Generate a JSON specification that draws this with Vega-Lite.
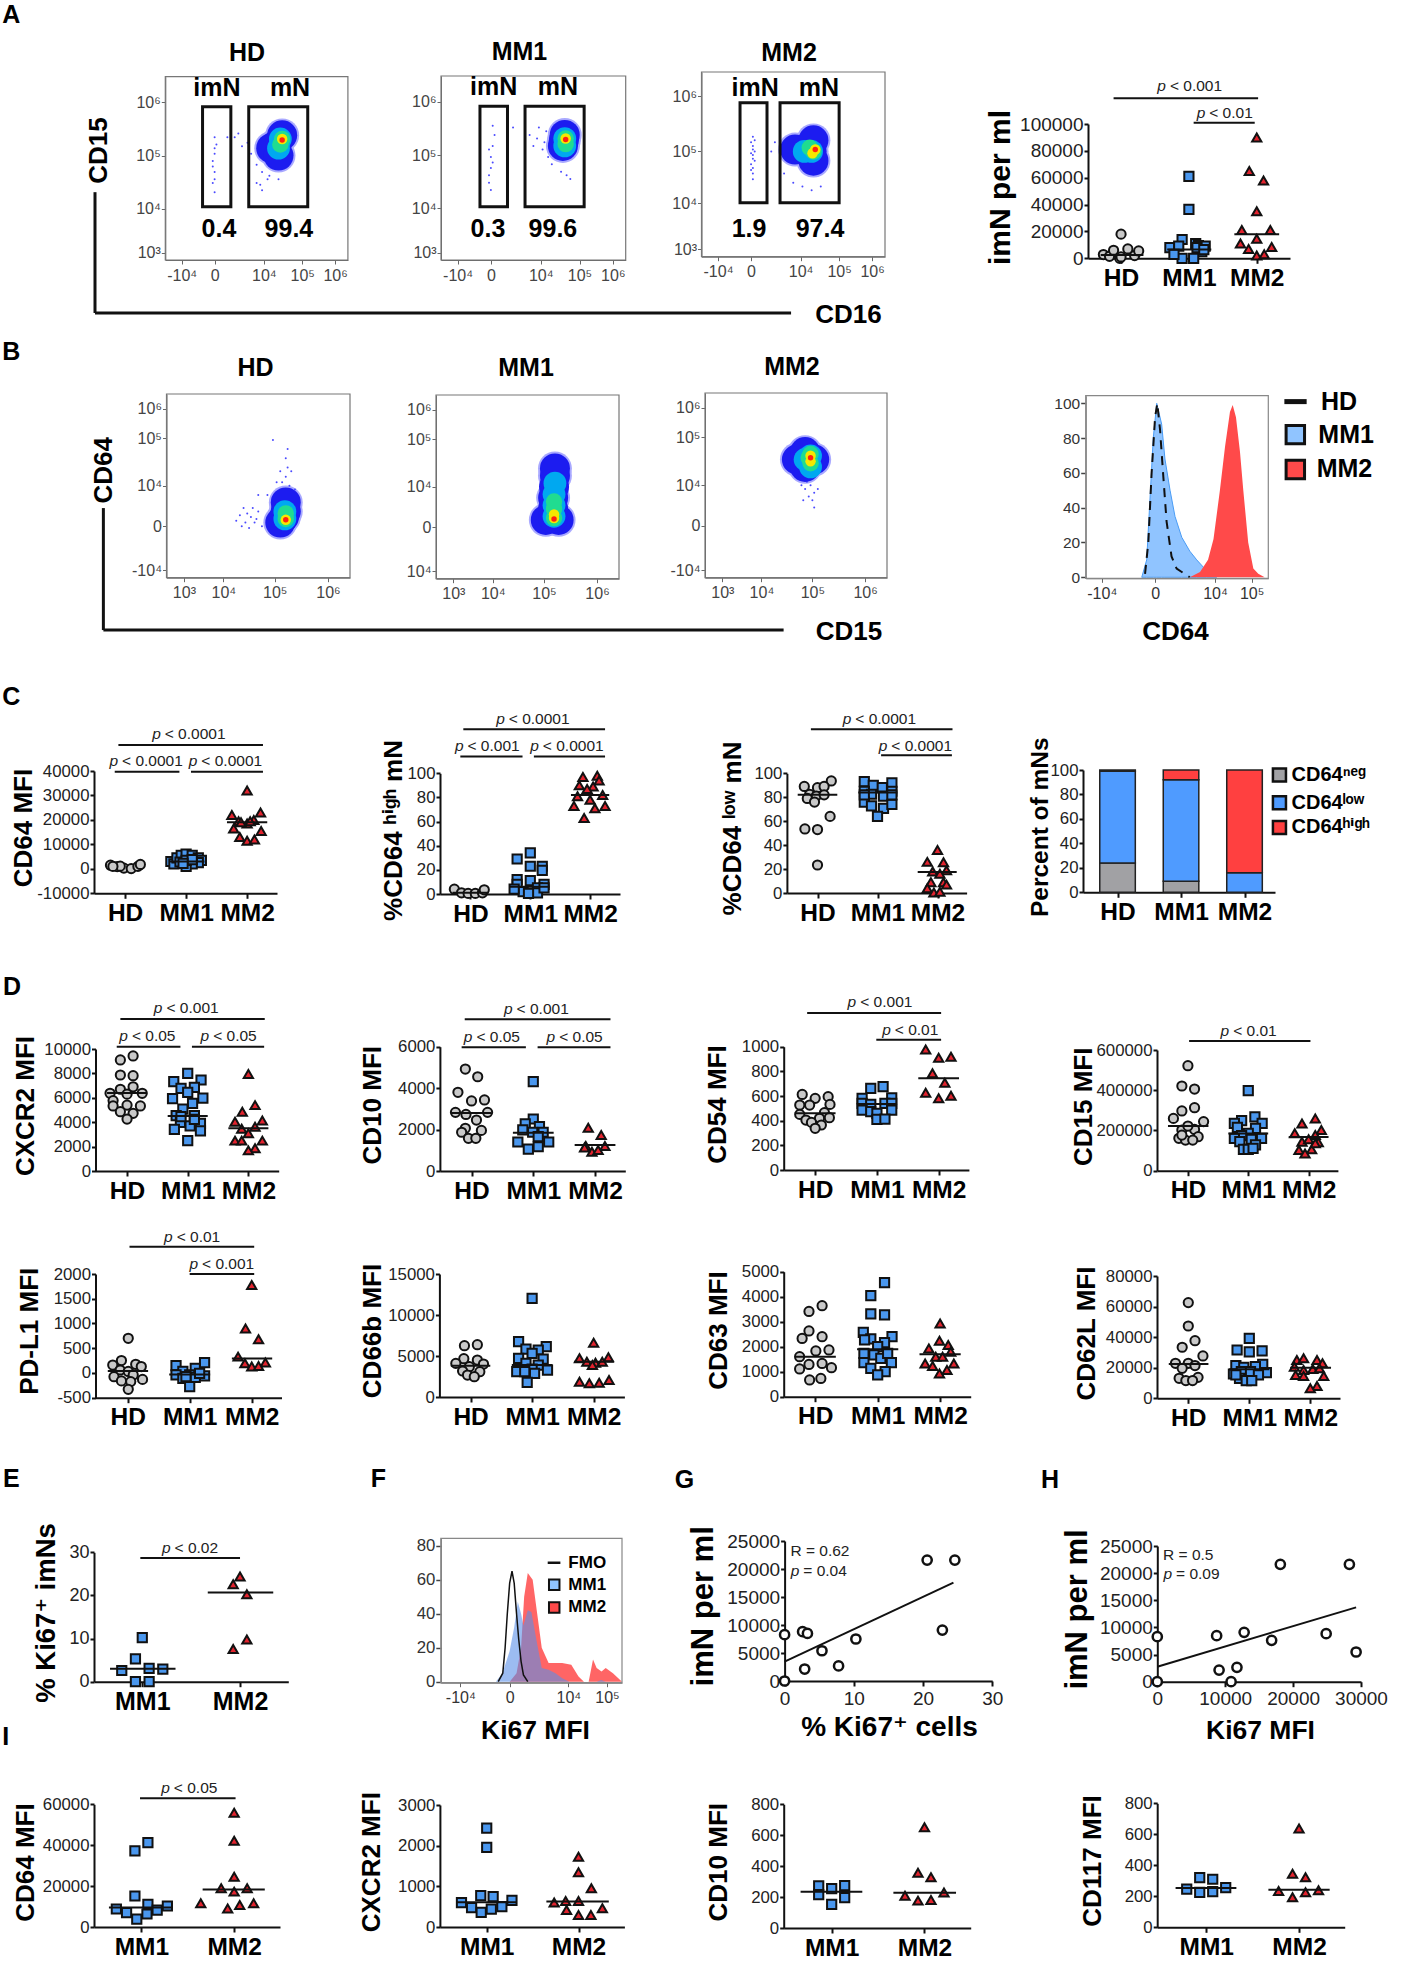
{"$schema":"https://vega.github.io/schema/vega-lite/v6.json","width":1417,"height":1971,"padding":0,"autosize":{"type":"none"},"background":"white",
"config":{"font":"Liberation Sans, DejaVu Sans","view":{"stroke":null},"legend":{"disable":true},"numberFormat":"d",
"axis":{"grid":false,"domainColor":"#111","tickColor":"#111","domainWidth":2,"tickWidth":2,"tickSize":5,"labelColor":"#222","labelFontSize":16.8,"labelPadding":3,"titleFontSize":26,"titleFontWeight":"bold","titleColor":"#000","titleAlign":"center","titleBaseline":"middle","labelOverlap":false,"labelBound":false,"labelFlush":false},
"axisX":{"labelFontSize":24.5,"labelFontWeight":"bold","labelColor":"#000"},"axisY":{"tickSize":4,"labelPadding":1},
"point":{"filled":true,"stroke":"#111","strokeWidth":2,"size":85,"opacity":1},"rule":{"stroke":"#111","strokeWidth":2},"text":{"color":"#000"},
"style":{"pi":{"fontStyle":"italic","align":"right","dx":-4,"fontSize":15.5,"color":"#222"},"pt":{"align":"left","fontSize":15.5,"color":"#222"},"big":{"fontWeight":"bold","fontSize":25}}},
"resolve":{"scale":{"x":"independent","y":"independent"},"axis":{"x":"independent","y":"independent"}},
"layer":[
{"data":{"values":[{"t":"A","x":0.8,"y":0.76},{"t":"B","x":0.8,"y":17.84},{"t":"C","x":0.8,"y":35.35},{"t":"D","x":0.85,"y":50.06},{"t":"E","x":0.8,"y":75.05},{"t":"F","x":26.7,"y":75.05},{"t":"G","x":48.3,"y":75.08},{"t":"H","x":74.1,"y":75.08},{"t":"I","x":0.4,"y":88.15}]},"mark":{"type":"text","style":"big"},"encoding":{"x":{"field":"x","type":"quantitative","scale":{"domain":[0,100],"range":[0,1417]},"axis":null},"y":{"field":"y","type":"quantitative","scale":{"domain":[0,100],"range":[0,1971]},"axis":null},"text":{"field":"t"}}},

{"data":{"values":[{"d":6,"x":61,"y":63},{"d":6,"x":64,"y":68},{"d":6,"x":58,"y":61},{"d":6,"x":62,"y":57},{"d":0,"x":27,"y":67},{"d":0,"x":27,"y":61},{"d":0,"x":26,"y":54},{"d":0,"x":27,"y":48},{"d":0,"x":26,"y":42},{"d":0,"x":27,"y":37},{"d":0,"x":28,"y":63},{"d":0,"x":26,"y":51},{"d":0,"x":27,"y":44},{"d":0,"x":27,"y":58},{"d":0,"x":50,"y":52},{"d":0,"x":53,"y":48},{"d":0,"x":57,"y":46},{"d":0,"x":50,"y":42},{"d":0,"x":53,"y":38},{"d":0,"x":56,"y":44},{"d":0,"x":60,"y":50},{"d":0,"x":62,"y":44},{"d":0,"x":47,"y":58},{"d":0,"x":45,"y":64},{"d":0,"x":38,"y":67},{"d":0,"x":40,"y":69},{"d":0,"x":42,"y":62},{"d":0,"x":34,"y":67},{"d":0,"x":52,"y":41},{"d":0,"x":58,"y":52},
{"d":1,"x":61,"y":63},{"d":1,"x":64,"y":68},{"d":1,"x":58,"y":61},{"d":1,"x":62,"y":57},{"d":2,"x":63,"y":66},{"d":2,"x":62,"y":61},{"d":3,"x":64,"y":66},{"d":3,"x":63,"y":63},{"d":4,"x":64,"y":66},{"d":5,"x":64,"y":65.5},
{"f":1,"x":0,"x2":100,"y":0,"y2":100},{"q":1,"x":20.4,"x2":35.9,"y":29,"y2":83.6},{"q":1,"x":45.7,"x2":78,"y":29,"y2":83.6},
{"r":1,"x":-38.5,"x2":-38.5,"y":37,"y2":-28.9},{"r":1,"x":-38.5,"x2":342.7,"y":-28.9,"y2":-28.9},
{"t":"HD","x":44.7,"y":112.9},{"t":"imN","x":28.3,"y":93.8},{"t":"mN","x":68.3,"y":93.8},{"t":"0.4","x":29.4,"y":16.9},{"t":"99.4","x":67.7,"y":16.9}]},
"encoding":{"x":{"field":"x","type":"quantitative","scale":{"domain":[0,100],"range":[165.3,347.9]},"axis":{"orient":"bottom","offset":-1711,"values":[9,27,54,75,93],"labelExpr":"['-10⁴','0','10⁴','10⁵','10⁶'][indexof([9,27,54,75,93],datum.value)]","title":"CD16","titleX":848,"titleY":54,"domainColor":"#666","domainWidth":1,"tickColor":"#666","tickWidth":1,"tickSize":4,"labelFontSize":16,"labelFontWeight":"normal","labelColor":"#444"}},"y":{"field":"y","type":"quantitative","scale":{"domain":[0,100],"range":[260,76.7]},"axis":{"orient":"left","offset":-165.3,"values":[4,28,57,86],"labelExpr":"['10³','10⁴','10⁵','10⁶'][indexof([4,28,57,86],datum.value)]","title":"CD15","titleX":-67,"titleY":150,"domainColor":"#666","domainWidth":1,"tickColor":"#666","tickWidth":1,"tickSize":4,"labelFontSize":16,"labelColor":"#444"}}},
"layer":[
{"transform":[{"filter":"datum.d!=null"}],"mark":{"type":"point","strokeWidth":0},"encoding":{"color":{"field":"d","type":"ordinal","scale":{"type":"ordinal","domain":[0,1,2,3,4,5,6],"range":["#4a4aff","#1c1cf0","#00a8f0","#20dc90","#f5e800","#ff2010","#a9a9ff"]}},"size":{"field":"d","type":"ordinal","scale":{"type":"ordinal","domain":[0,1,2,3,4,5,6],"range":[4,900,520,270,110,30,1150]}}}},
{"transform":[{"filter":"datum.f"}],"mark":{"type":"rect","fillOpacity":0,"stroke":"#777","strokeWidth":1.2},"encoding":{"x2":{"field":"x2"},"y2":{"field":"y2"}}},
{"transform":[{"filter":"datum.q"}],"mark":{"type":"rect","fillOpacity":0,"stroke":"#111","strokeWidth":3},"encoding":{"x2":{"field":"x2"},"y2":{"field":"y2"}}},
{"transform":[{"filter":"datum.r"}],"mark":{"type":"rule","strokeWidth":3},"encoding":{"x2":{"field":"x2"},"y2":{"field":"y2"}}},
{"transform":[{"filter":"datum.t"}],"mark":{"type":"text","style":"big"},"encoding":{"text":{"field":"t"}}}]},

{"data":{"values":[{"d":6,"x":66.5,"y":65},{"d":6,"x":66,"y":62},{"d":6,"x":67,"y":68},{"d":0,"x":28,"y":73},{"d":0,"x":29,"y":68},{"d":0,"x":28,"y":62},{"d":0,"x":27,"y":56},{"d":0,"x":27,"y":50},{"d":0,"x":26,"y":46},{"d":0,"x":26,"y":42},{"d":0,"x":27,"y":38},{"d":0,"x":26,"y":60},{"d":0,"x":28,"y":53},{"d":0,"x":36,"y":72},{"d":0,"x":39,"y":72},{"d":0,"x":52,"y":66},{"d":0,"x":55,"y":60},{"d":0,"x":57,"y":70},{"d":0,"x":50,"y":62},{"d":0,"x":53,"y":72},{"d":0,"x":58,"y":56},{"d":0,"x":48,"y":68},{"d":0,"x":56,"y":64},{"d":0,"x":65,"y":48},{"d":0,"x":68,"y":46},{"d":0,"x":70,"y":44},{"d":0,"x":60,"y":52},
{"d":1,"x":66.5,"y":65},{"d":1,"x":66,"y":62},{"d":1,"x":67,"y":68},{"d":2,"x":67,"y":66},{"d":2,"x":67,"y":62},{"d":3,"x":67.5,"y":66},{"d":3,"x":67.5,"y":63},{"d":4,"x":67.5,"y":66},{"d":5,"x":67.5,"y":65.5},
{"f":1,"x":0,"x2":100,"y":0,"y2":100},{"q":1,"x":21.1,"x2":36,"y":29,"y2":83.6},{"q":1,"x":45.5,"x2":77.5,"y":29,"y2":83.6},
{"t":"MM1","x":42.5,"y":112.9},{"t":"imN","x":28.5,"y":93.8},{"t":"mN","x":63.3,"y":93.8},{"t":"0.3","x":25.4,"y":16.9},{"t":"99.6","x":60.6,"y":16.9}]},
"encoding":{"x":{"field":"x","type":"quantitative","scale":{"domain":[0,100],"range":[441,625.7]},"axis":{"orient":"bottom","offset":-1711,"values":[9,27,54,75,93],"labelExpr":"['-10⁴','0','10⁴','10⁵','10⁶'][indexof([9,27,54,75,93],datum.value)]","title":null,"domainColor":"#666","domainWidth":1,"tickColor":"#666","tickWidth":1,"tickSize":4,"labelFontSize":16,"labelFontWeight":"normal","labelColor":"#444"}},"y":{"field":"y","type":"quantitative","scale":{"domain":[0,100],"range":[260,76]},"axis":{"orient":"left","offset":-441,"values":[4,28,57,86],"labelExpr":"['10³','10⁴','10⁵','10⁶'][indexof([4,28,57,86],datum.value)]","title":null,"domainColor":"#666","domainWidth":1,"tickColor":"#666","tickWidth":1,"tickSize":4,"labelFontSize":16,"labelColor":"#444"}}},
"layer":[
{"transform":[{"filter":"datum.d!=null"}],"mark":{"type":"point","strokeWidth":0},"encoding":{"color":{"field":"d","type":"ordinal","scale":{"type":"ordinal","domain":[0,1,2,3,4,5,6],"range":["#4a4aff","#1c1cf0","#00a8f0","#20dc90","#f5e800","#ff2010","#a9a9ff"]}},"size":{"field":"d","type":"ordinal","scale":{"type":"ordinal","domain":[0,1,2,3,4,5,6],"range":[4,900,520,270,110,30,1150]}}}},
{"transform":[{"filter":"datum.f"}],"mark":{"type":"rect","fillOpacity":0,"stroke":"#777","strokeWidth":1.2},"encoding":{"x2":{"field":"x2"},"y2":{"field":"y2"}}},
{"transform":[{"filter":"datum.q"}],"mark":{"type":"rect","fillOpacity":0,"stroke":"#111","strokeWidth":3},"encoding":{"x2":{"field":"x2"},"y2":{"field":"y2"}}},
{"transform":[{"filter":"datum.t"}],"mark":{"type":"text","style":"big"},"encoding":{"text":{"field":"t"}}}]},

{"data":{"values":[{"d":6,"x":60,"y":57},{"d":6,"x":56,"y":58},{"d":6,"x":51,"y":58},{"d":6,"x":61,"y":52},{"d":6,"x":61,"y":63},{"d":0,"x":28,"y":65},{"d":0,"x":28,"y":60},{"d":0,"x":28,"y":58},{"d":0,"x":28,"y":55},{"d":0,"x":29,"y":52},{"d":0,"x":27,"y":50},{"d":0,"x":28,"y":48},{"d":0,"x":28,"y":45},{"d":0,"x":27,"y":62},{"d":0,"x":29,"y":57},{"d":0,"x":28,"y":42},{"d":0,"x":27,"y":56},{"d":0,"x":29,"y":63},{"d":0,"x":28,"y":53},{"d":0,"x":27,"y":47},{"d":0,"x":40,"y":62},{"d":0,"x":38,"y":57},{"d":0,"x":45,"y":45},{"d":0,"x":50,"y":40},{"d":0,"x":55,"y":38},{"d":0,"x":60,"y":36},{"d":0,"x":65,"y":38},
{"d":1,"x":60,"y":57},{"d":1,"x":56,"y":58},{"d":1,"x":51,"y":58},{"d":1,"x":61,"y":52},{"d":1,"x":61,"y":63},{"d":2,"x":60,"y":57},{"d":2,"x":56,"y":57},{"d":3,"x":61,"y":57},{"d":3,"x":59,"y":59},{"d":4,"x":62,"y":58},{"d":4,"x":60.5,"y":56},{"d":5,"x":62,"y":58},
{"f":1,"x":0,"x2":100,"y":0,"y2":100},{"q":1,"x":21,"x2":35.7,"y":29.2,"y2":83.4},{"q":1,"x":42.8,"x2":75,"y":29.2,"y2":83.4},
{"t":"MM2","x":47.7,"y":110.3},{"t":"imN","x":29.2,"y":91.3},{"t":"mN","x":64,"y":91.3},{"t":"1.9","x":25.9,"y":15},{"t":"97.4","x":64.6,"y":15}]},
"encoding":{"x":{"field":"x","type":"quantitative","scale":{"domain":[0,100],"range":[701.5,885]},"axis":{"orient":"bottom","offset":-1714.3,"values":[9,27,54,75,93],"labelExpr":"['-10⁴','0','10⁴','10⁵','10⁶'][indexof([9,27,54,75,93],datum.value)]","title":null,"domainColor":"#666","domainWidth":1,"tickColor":"#666","tickWidth":1,"tickSize":4,"labelFontSize":16,"labelFontWeight":"normal","labelColor":"#444"}},"y":{"field":"y","type":"quantitative","scale":{"domain":[0,100],"range":[256.7,72]},"axis":{"orient":"left","offset":-701.5,"values":[4,29,57,87],"labelExpr":"['10³','10⁴','10⁵','10⁶'][indexof([4,29,57,87],datum.value)]","title":null,"domainColor":"#666","domainWidth":1,"tickColor":"#666","tickWidth":1,"tickSize":4,"labelFontSize":16,"labelColor":"#444"}}},
"layer":[
{"transform":[{"filter":"datum.d!=null"}],"mark":{"type":"point","strokeWidth":0},"encoding":{"color":{"field":"d","type":"ordinal","scale":{"type":"ordinal","domain":[0,1,2,3,4,5,6],"range":["#4a4aff","#1c1cf0","#00a8f0","#20dc90","#f5e800","#ff2010","#a9a9ff"]}},"size":{"field":"d","type":"ordinal","scale":{"type":"ordinal","domain":[0,1,2,3,4,5,6],"range":[4,900,520,270,110,30,1150]}}}},
{"transform":[{"filter":"datum.f"}],"mark":{"type":"rect","fillOpacity":0,"stroke":"#777","strokeWidth":1.2},"encoding":{"x2":{"field":"x2"},"y2":{"field":"y2"}}},
{"transform":[{"filter":"datum.q"}],"mark":{"type":"rect","fillOpacity":0,"stroke":"#111","strokeWidth":3},"encoding":{"x2":{"field":"x2"},"y2":{"field":"y2"}}},
{"transform":[{"filter":"datum.t"}],"mark":{"type":"text","style":"big"},"encoding":{"text":{"field":"t"}}}]},

{"data":{"values":[{"g":"HD","x":1,"y":18000},{"g":"HD","x":0.74,"y":2800},{"g":"HD","x":0.83,"y":1500},{"g":"HD","x":0.89,"y":6000},{"g":"HD","x":0.98,"y":0},{"g":"HD","x":1.1,"y":7000},{"g":"HD","x":1.2,"y":2000},{"g":"HD","x":1.26,"y":5500},{"g":"HD","x":1,"y":1000},
{"g":"MM1","x":2,"y":61000},{"g":"MM1","x":2,"y":36500},{"g":"MM1","x":1.9,"y":14000},{"g":"MM1","x":1.72,"y":8000},{"g":"MM1","x":1.85,"y":9000},{"g":"MM1","x":2.1,"y":11000},{"g":"MM1","x":2.14,"y":9500},{"g":"MM1","x":2.24,"y":9000},{"g":"MM1","x":2.19,"y":5000},{"g":"MM1","x":1.9,"y":0},{"g":"MM1","x":2.07,"y":0},{"g":"MM1","x":1.78,"y":3000},{"g":"MM1","x":2.12,"y":8000},{"g":"MM1","x":2.22,"y":6500},
{"g":"MM2","x":3,"y":90000},{"g":"MM2","x":2.89,"y":65000},{"g":"MM2","x":3.1,"y":58000},{"g":"MM2","x":3,"y":35000},{"g":"MM2","x":2.78,"y":21000},{"g":"MM2","x":3.2,"y":21000},{"g":"MM2","x":3,"y":14500},{"g":"MM2","x":2.76,"y":11000},{"g":"MM2","x":2.88,"y":7000},{"g":"MM2","x":3.22,"y":8500},{"g":"MM2","x":3,"y":2000},{"g":"MM2","x":3.11,"y":3000},
{"x":0.7,"x2":1.33,"y":2500},{"x":1.68,"x2":2.33,"y":6500},{"x":2.67,"x2":3.33,"y":18000},{"x":0.89,"x2":3.02,"y":119100},{"x":2.07,"x2":2.97,"y":101000},
{"x":1.72,"y":128000,"t":"< 0.001"},{"x":2.3,"y":108000,"t":"< 0.01"}]},
"encoding":{"x":{"field":"x","type":"quantitative","scale":{"domain":[0.513,3.49],"range":[1088,1290]},"axis":{"orient":"bottom","offset":-1712.7,"values":[1,2,3],"labelExpr":"['','HD','MM1','MM2'][datum.value]","title":null}},"y":{"field":"y","type":"quantitative","scale":{"domain":[0,100000],"range":[258.3,124]},"axis":{"orient":"left","offset":-1088,"values":[0,20000,40000,60000,80000,100000],"title":"imN per ml","titleX":-88,"titleY":187,"titleFontSize":30,"labelFontSize":19}}},
"layer":[
{"transform":[{"filter":"datum.g"}],"mark":"point","encoding":{"shape":{"field":"g","scale":{"domain":["HD","MM1","MM2"],"range":["circle","square","triangle-up"]}},"fill":{"field":"g","scale":{"domain":["HD","MM1","MM2","neg","low","high","hb","hr","hf"],"range":["#c9c9c9","#4a97ee","#e2232e","#a1a1a4","#4f9bff","#ff4040","#90c4ff","#ff4a4a","#5a90e8"]}}}},
{"transform":[{"filter":"datum.x2"}],"mark":"rule","encoding":{"x2":{"field":"x2"}}},
{"transform":[{"filter":"datum.t"}],"mark":{"type":"text","style":"pi","text":"p"}},
{"transform":[{"filter":"datum.t"}],"mark":{"type":"text","style":"pt"},"encoding":{"text":{"field":"t"}}}]},

{"data":{"values":[{"d":6,"x":64,"y":33},{"d":6,"x":62,"y":30},{"d":6,"x":65,"y":36},{"d":6,"x":65,"y":41},{"d":0,"x":40,"y":34},{"d":0,"x":43,"y":30},{"d":0,"x":46,"y":33},{"d":0,"x":48,"y":30},{"d":0,"x":42,"y":38},{"d":0,"x":45,"y":27},{"d":0,"x":50,"y":36},{"d":0,"x":38,"y":31},{"d":0,"x":47,"y":38},{"d":0,"x":52,"y":28},{"d":0,"x":44,"y":35},{"d":0,"x":49,"y":32},{"d":0,"x":41,"y":28},{"d":0,"x":65,"y":55},{"d":0,"x":66,"y":60},{"d":0,"x":63,"y":52},{"d":0,"x":67,"y":50},{"d":0,"x":68,"y":58},{"d":0,"x":60,"y":52},{"d":0,"x":62,"y":58},{"d":0,"x":65,"y":65},{"d":0,"x":55,"y":45},{"d":0,"x":50,"y":45},{"d":0,"x":70,"y":48},{"d":0,"x":66,"y":70},{"d":0,"x":58,"y":75},
{"d":1,"x":64,"y":33},{"d":1,"x":62,"y":30},{"d":1,"x":65,"y":36},{"d":1,"x":65,"y":41},{"d":2,"x":64.5,"y":32},{"d":2,"x":64.5,"y":36},{"d":3,"x":65,"y":32},{"d":3,"x":65,"y":35},{"d":4,"x":65,"y":31.5},{"d":5,"x":65,"y":31.5},
{"f":1,"x":0,"x2":100,"y":0,"y2":100},{"r":1,"x":-34.4,"x2":-34.4,"y":37.9,"y2":-28.5},{"r":1,"x":-34.4,"x2":336.3,"y":-28.5,"y2":-28.5},{"t":"HD","x":48.5,"y":114.2}]},
"encoding":{"x":{"field":"x","type":"quantitative","scale":{"domain":[0,100],"range":[166.5,350]},"axis":{"orient":"bottom","offset":-1393.3,"values":[9.5,31,59,88],"labelExpr":"['10³','10⁴','10⁵','10⁶'][indexof([9.5,31,59,88],datum.value)]","title":"CD15","titleX":848.5,"titleY":54,"domainColor":"#666","domainWidth":1,"tickColor":"#666","tickWidth":1,"tickSize":4,"labelFontSize":16,"labelFontWeight":"normal","labelColor":"#444"}},"y":{"field":"y","type":"quantitative","scale":{"domain":[0,100],"range":[577.7,394]},"axis":{"orient":"left","offset":-166.5,"values":[4,28,50,76,92],"labelExpr":"['-10⁴','0','10⁴','10⁵','10⁶'][indexof([4,28,50,76,92],datum.value)]","title":"CD64","titleX":-63.5,"titleY":469.7,"domainColor":"#666","domainWidth":1,"tickColor":"#666","tickWidth":1,"tickSize":4,"labelFontSize":16,"labelColor":"#444"}}},
"layer":[
{"transform":[{"filter":"datum.d!=null"}],"mark":{"type":"point","strokeWidth":0},"encoding":{"color":{"field":"d","type":"ordinal","scale":{"type":"ordinal","domain":[0,1,2,3,4,5,6],"range":["#4a4aff","#1c1cf0","#00a8f0","#20dc90","#f5e800","#ff2010","#a9a9ff"]}},"size":{"field":"d","type":"ordinal","scale":{"type":"ordinal","domain":[0,1,2,3,4,5,6],"range":[4,900,520,270,110,30,1150]}}}},
{"transform":[{"filter":"datum.f"}],"mark":{"type":"rect","fillOpacity":0,"stroke":"#777","strokeWidth":1.2},"encoding":{"x2":{"field":"x2"},"y2":{"field":"y2"}}},
{"transform":[{"filter":"datum.r"}],"mark":{"type":"rule","strokeWidth":3},"encoding":{"x2":{"field":"x2"},"y2":{"field":"y2"}}},
{"transform":[{"filter":"datum.t"}],"mark":{"type":"text","style":"big"},"encoding":{"text":{"field":"t"}}}]},

{"data":{"values":[{"d":6,"x":60,"y":32},{"d":6,"x":67,"y":32},{"d":6,"x":64,"y":44},{"d":6,"x":65,"y":56},{"d":6,"x":65,"y":60},{"d":1,"x":60,"y":32},{"d":1,"x":67,"y":32},{"d":1,"x":64,"y":33},{"d":1,"x":64,"y":38},{"d":1,"x":64,"y":44},{"d":1,"x":64.5,"y":50},{"d":1,"x":65,"y":56},{"d":1,"x":65,"y":60},{"d":2,"x":64.5,"y":34},{"d":2,"x":64.5,"y":40},{"d":2,"x":64.5,"y":46},{"d":2,"x":65,"y":52},{"d":3,"x":64.5,"y":33},{"d":3,"x":64.5,"y":38},{"d":3,"x":64.5,"y":42},{"d":4,"x":64.5,"y":33},{"d":4,"x":64.5,"y":35},{"d":5,"x":64.5,"y":32.5},
{"f":1,"x":0,"x2":100,"y":0,"y2":100},{"t":"MM1","x":49.2,"y":114.7}]},
"encoding":{"x":{"field":"x","type":"quantitative","scale":{"domain":[0,100],"range":[436,619]},"axis":{"orient":"bottom","offset":-1392.3,"values":[9.5,31,59,88],"labelExpr":"['10³','10⁴','10⁵','10⁶'][indexof([9.5,31,59,88],datum.value)]","title":null,"domainColor":"#666","domainWidth":1,"tickColor":"#666","tickWidth":1,"tickSize":4,"labelFontSize":16,"labelFontWeight":"normal","labelColor":"#444"}},"y":{"field":"y","type":"quantitative","scale":{"domain":[0,100],"range":[578.7,395]},"axis":{"orient":"left","offset":-436,"values":[4,28,50,76,92],"labelExpr":"['10⁴','0','10⁴','10⁵','10⁶'][indexof([4,28,50,76,92],datum.value)]","title":null,"domainColor":"#666","domainWidth":1,"tickColor":"#666","tickWidth":1,"tickSize":4,"labelFontSize":16,"labelColor":"#444"}}},
"layer":[
{"transform":[{"filter":"datum.d!=null"}],"mark":{"type":"point","strokeWidth":0},"encoding":{"color":{"field":"d","type":"ordinal","scale":{"type":"ordinal","domain":[0,1,2,3,4,5,6],"range":["#4a4aff","#1c1cf0","#00a8f0","#20dc90","#f5e800","#ff2010","#a9a9ff"]}},"size":{"field":"d","type":"ordinal","scale":{"type":"ordinal","domain":[0,1,2,3,4,5,6],"range":[4,900,520,270,110,30,1150]}}}},
{"transform":[{"filter":"datum.f"}],"mark":{"type":"rect","fillOpacity":0,"stroke":"#777","strokeWidth":1.2},"encoding":{"x2":{"field":"x2"},"y2":{"field":"y2"}}},
{"transform":[{"filter":"datum.t"}],"mark":{"type":"text","style":"big"},"encoding":{"text":{"field":"t"}}}]},

{"data":{"values":[{"d":6,"x":50.5,"y":64},{"d":6,"x":60,"y":64},{"d":6,"x":55,"y":68},{"d":6,"x":55,"y":60},{"d":0,"x":58,"y":50},{"d":0,"x":55,"y":48},{"d":0,"x":60,"y":46},{"d":0,"x":57,"y":44},{"d":0,"x":62,"y":48},{"d":0,"x":53,"y":50},{"d":0,"x":59,"y":42},{"d":0,"x":56,"y":52},{"d":0,"x":54,"y":42},{"d":0,"x":60,"y":38},
{"d":1,"x":50.5,"y":64},{"d":1,"x":60,"y":64},{"d":1,"x":55,"y":68},{"d":1,"x":55,"y":60},{"d":2,"x":55,"y":64},{"d":2,"x":58,"y":66},{"d":2,"x":58,"y":60},{"d":3,"x":57,"y":65},{"d":3,"x":58,"y":62},{"d":3,"x":58,"y":67},{"d":4,"x":58,"y":66},{"d":4,"x":58,"y":63},{"d":5,"x":58,"y":65},
{"f":1,"x":0,"x2":100,"y":0,"y2":100},{"t":"MM2","x":47.8,"y":114}]},
"encoding":{"x":{"field":"x","type":"quantitative","scale":{"domain":[0,100],"range":[705,887]},"axis":{"orient":"bottom","offset":-1393.3,"values":[9.5,31,59,88],"labelExpr":"['10³','10⁴','10⁵','10⁶'][indexof([9.5,31,59,88],datum.value)]","title":null,"domainColor":"#666","domainWidth":1,"tickColor":"#666","tickWidth":1,"tickSize":4,"labelFontSize":16,"labelFontWeight":"normal","labelColor":"#444"}},"y":{"field":"y","type":"quantitative","scale":{"domain":[0,100],"range":[577.7,393]},"axis":{"orient":"left","offset":-705,"values":[4,28,50,76,92],"labelExpr":"['-10⁴','0','10⁴','10⁵','10⁶'][indexof([4,28,50,76,92],datum.value)]","title":null,"domainColor":"#666","domainWidth":1,"tickColor":"#666","tickWidth":1,"tickSize":4,"labelFontSize":16,"labelColor":"#444"}}},
"layer":[
{"transform":[{"filter":"datum.d!=null"}],"mark":{"type":"point","strokeWidth":0},"encoding":{"color":{"field":"d","type":"ordinal","scale":{"type":"ordinal","domain":[0,1,2,3,4,5,6],"range":["#4a4aff","#1c1cf0","#00a8f0","#20dc90","#f5e800","#ff2010","#a9a9ff"]}},"size":{"field":"d","type":"ordinal","scale":{"type":"ordinal","domain":[0,1,2,3,4,5,6],"range":[4,900,520,270,110,30,1150]}}}},
{"transform":[{"filter":"datum.f"}],"mark":{"type":"rect","fillOpacity":0,"stroke":"#777","strokeWidth":1.2},"encoding":{"x2":{"field":"x2"},"y2":{"field":"y2"}}},
{"transform":[{"filter":"datum.t"}],"mark":{"type":"text","style":"big"},"encoding":{"text":{"field":"t"}}}]},

{"data":{"values":[{"a":"hb","x":30.7,"y":0},{"a":"hb","x":33.4,"y":10},{"a":"hb","x":35.2,"y":45},{"a":"hb","x":37,"y":80},{"a":"hb","x":38.9,"y":100},{"a":"hb","x":41.6,"y":88},{"a":"hb","x":43.4,"y":68},{"a":"hb","x":46.2,"y":50},{"a":"hb","x":48.9,"y":35},{"a":"hb","x":52.6,"y":23},{"a":"hb","x":57,"y":15},{"a":"hb","x":60.8,"y":10},{"a":"hb","x":66,"y":4},{"a":"hb","x":71.7,"y":0},
{"a":"hr","x":57,"y":0},{"a":"hr","x":62.6,"y":3},{"a":"hr","x":67,"y":10},{"a":"hr","x":70,"y":22},{"a":"hr","x":73.5,"y":50},{"a":"hr","x":76.3,"y":75},{"a":"hr","x":79,"y":95},{"a":"hr","x":80.5,"y":99},{"a":"hr","x":82.3,"y":92},{"a":"hr","x":84.5,"y":72},{"a":"hr","x":86.3,"y":50},{"a":"hr","x":89,"y":20},{"a":"hr","x":91.8,"y":5},{"a":"hr","x":94.5,"y":2},{"a":"hr","x":98,"y":0},
{"h":"HD","x":32.5,"y":2},{"h":"HD","x":34.3,"y":20},{"h":"HD","x":36.1,"y":60},{"h":"HD","x":38,"y":92},{"h":"HD","x":39.2,"y":100},{"h":"HD","x":40.7,"y":85},{"h":"HD","x":42.5,"y":58},{"h":"HD","x":44.3,"y":32},{"h":"HD","x":47,"y":12},{"h":"HD","x":49.8,"y":5},{"h":"HD","x":57,"y":0},
{"f":1,"x":0,"x2":100,"y":-0.6,"y2":104.4},{"r":1,"x":108.8,"x2":121,"y":101,"y2":101},
{"g":"hb","x":114.8,"y":82},{"g":"hr","x":114.8,"y":62},{"t":"HD","x":128.8,"y":101},{"t":"MM1","x":127.4,"y":82},{"t":"MM2","x":126.5,"y":62}]},
"encoding":{"x":{"field":"x","type":"quantitative","scale":{"domain":[0,100],"range":[1085.7,1268.3]},"axis":{"orient":"bottom","offset":-1392.7,"values":[8.8,38,70.8,90.9],"labelExpr":"['-10⁴','0','10⁴','10⁵'][indexof([8.8,38,70.8,90.9],datum.value)]","title":"CD64","titleX":1175,"titleY":53.4,"domainColor":"#666","domainWidth":1,"tickColor":"#666","tickWidth":1,"tickSize":4,"labelFontSize":16,"labelFontWeight":"normal","labelColor":"#333"}},"y":{"field":"y","type":"quantitative","stack":null,"scale":{"domain":[-0.6,104.4],"range":[578.3,395.7]},"axis":{"orient":"left","offset":-1085.7,"values":[0,20,40,60,80,100],"title":null,"domainColor":"#666","domainWidth":1,"tickColor":"#444","tickWidth":1.5,"tickSize":5,"labelFontSize":15.5,"labelColor":"#333"}}},
"layer":[
{"transform":[{"filter":"datum.a=='hb'"}],"mark":{"type":"area","stroke":"#4a9cf5","strokeWidth":1},"encoding":{"fill":{"field":"a"}}},
{"transform":[{"filter":"datum.a=='hr'"}],"mark":{"type":"area"},"encoding":{"fill":{"field":"a"}}},
{"transform":[{"filter":"datum.h"}],"mark":{"type":"line","stroke":"#111","strokeWidth":2,"strokeDash":[9,7]},"encoding":{}},
{"transform":[{"filter":"datum.f"}],"mark":{"type":"rect","fillOpacity":0,"stroke":"#888","strokeWidth":1.2},"encoding":{"x2":{"field":"x2"},"y2":{"field":"y2"}}},
{"transform":[{"filter":"datum.r"}],"mark":{"type":"rule","strokeWidth":5},"encoding":{"x2":{"field":"x2"},"y2":{"field":"y2"}}},
{"transform":[{"filter":"datum.g"}],"mark":{"type":"point","shape":"square","size":340,"strokeWidth":3},"encoding":{"fill":{"field":"g"}}},
{"transform":[{"filter":"datum.t"}],"mark":{"type":"text","fontWeight":"bold","fontSize":25,"align":"left"},"encoding":{"text":{"field":"t"}}}]},

{"data":{"values":[{"g":"HD","x":0.76,"y":1500},{"g":"HD","x":0.87,"y":900},{"g":"HD","x":0.98,"y":300},{"g":"HD","x":1.1,"y":100},{"g":"HD","x":1.21,"y":1000},{"g":"HD","x":1.25,"y":1800},{"g":"HD","x":0.92,"y":1100},{"g":"HD","x":0.8,"y":1000},
{"g":"MM1","x":1.75,"y":3000},{"g":"MM1","x":1.8,"y":2000},{"g":"MM1","x":1.85,"y":4500},{"g":"MM1","x":1.92,"y":5500},{"g":"MM1","x":2,"y":6000},{"g":"MM1","x":2.1,"y":5500},{"g":"MM1","x":2.2,"y":4500},{"g":"MM1","x":2.25,"y":3500},{"g":"MM1","x":2.2,"y":2500},{"g":"MM1","x":2.1,"y":2000},{"g":"MM1","x":2,"y":1000},{"g":"MM1","x":1.9,"y":2800},{"g":"MM1","x":2,"y":3500},{"g":"MM1","x":2.1,"y":3800},{"g":"MM1","x":1.95,"y":2200},
{"g":"MM2","x":3,"y":32000},{"g":"MM2","x":2.75,"y":22000},{"g":"MM2","x":3.22,"y":23000},{"g":"MM2","x":2.86,"y":19500},{"g":"MM2","x":3,"y":18500},{"g":"MM2","x":3.11,"y":20000},{"g":"MM2","x":2.78,"y":16500},{"g":"MM2","x":3.23,"y":15500},{"g":"MM2","x":2.88,"y":13000},{"g":"MM2","x":3,"y":11500},{"g":"MM2","x":3.12,"y":12000},{"g":"MM2","x":2.9,"y":19000},{"g":"MM2","x":3.05,"y":19500},
{"x":1.72,"x2":2.3,"y":3000},{"x":2.67,"x2":3.33,"y":19000},{"x":0.89,"x2":3.26,"y":50600},{"x":0.83,"x2":1.89,"y":39700},{"x":2.08,"x2":3.26,"y":39700},
{"x":1.65,"y":55100,"t":"< 0.0001"},{"x":0.95,"y":44200,"t":"< 0.0001"},{"x":2.25,"y":44200,"t":"< 0.0001"}]},
"encoding":{"x":{"field":"x","type":"quantitative","scale":{"domain":[0.49,3.49],"range":[94,277]},"axis":{"orient":"bottom","offset":-1077.7,"values":[1,2,3],"labelExpr":"['','HD','MM1','MM2'][datum.value]","title":null}},"y":{"field":"y","type":"quantitative","scale":{"domain":[-10000,40000],"range":[893.3,771]},"axis":{"orient":"left","offset":-94,"values":[-10000,0,10000,20000,30000,40000],"labelExpr":"''+datum.value","title":"CD64 MFI","titleX":-71,"titleY":827.5}}},
"layer":[
{"transform":[{"filter":"datum.g"}],"mark":"point","encoding":{"shape":{"field":"g"},"fill":{"field":"g"}}},
{"transform":[{"filter":"datum.x2"}],"mark":"rule","encoding":{"x2":{"field":"x2"}}},
{"transform":[{"filter":"datum.t"}],"mark":{"type":"text","style":"pi","text":"p"}},
{"transform":[{"filter":"datum.t"}],"mark":{"type":"text","style":"pt"},"encoding":{"text":{"field":"t"}}}]},

{"data":{"values":[{"g":"HD","x":0.73,"y":4},{"g":"HD","x":0.85,"y":1},{"g":"HD","x":0.96,"y":0.5},{"g":"HD","x":1.08,"y":0.5},{"g":"HD","x":1.2,"y":1},{"g":"HD","x":1.23,"y":3.5},
{"g":"MM1","x":2,"y":34},{"g":"MM1","x":1.78,"y":29},{"g":"MM1","x":2,"y":23},{"g":"MM1","x":2.2,"y":23},{"g":"MM1","x":2.2,"y":19.5},{"g":"MM1","x":1.78,"y":12},{"g":"MM1","x":2,"y":11},{"g":"MM1","x":2.23,"y":8},{"g":"MM1","x":1.78,"y":8},{"g":"MM1","x":2.12,"y":5},{"g":"MM1","x":1.88,"y":2},{"g":"MM1","x":2.12,"y":1},{"g":"MM1","x":1.73,"y":4},{"g":"MM1","x":1.97,"y":0.5},{"g":"MM1","x":2.23,"y":5},
{"g":"MM2","x":2.88,"y":97},{"g":"MM2","x":3.12,"y":98},{"g":"MM2","x":3.15,"y":94},{"g":"MM2","x":2.82,"y":90},{"g":"MM2","x":3.05,"y":89},{"g":"MM2","x":2.95,"y":87},{"g":"MM2","x":2.79,"y":81},{"g":"MM2","x":3.21,"y":82},{"g":"MM2","x":3,"y":78},{"g":"MM2","x":2.73,"y":73},{"g":"MM2","x":3.08,"y":71},{"g":"MM2","x":3.25,"y":73},{"g":"MM2","x":2.9,"y":63},
{"x":0.7,"x2":1.3,"y":1},{"x":1.65,"x2":2.32,"y":6},{"x":2.68,"x2":3.32,"y":82},{"x":0.88,"x2":3.25,"y":136.4},{"x":0.83,"x2":1.87,"y":114},{"x":2.06,"x2":3.25,"y":114},
{"x":1.64,"y":145,"t":"< 0.0001"},{"x":0.95,"y":123,"t":"< 0.001"},{"x":2.21,"y":123,"t":"< 0.0001"}]},
"encoding":{"x":{"field":"x","type":"quantitative","scale":{"domain":[0.49,3.5],"range":[440,620]},"axis":{"orient":"bottom","offset":-1077,"values":[1,2,3],"labelExpr":"['','HD','MM1','MM2'][datum.value]","title":null}},"y":{"field":"y","type":"quantitative","scale":{"domain":[0,100],"range":[894,773.3]},"axis":{"orient":"left","offset":-440,"values":[0,20,40,60,80,100],"title":"%CD64 ʰⁱᵍʰ mN","titleX":-47,"titleY":830}}},
"layer":[
{"transform":[{"filter":"datum.g"}],"mark":"point","encoding":{"shape":{"field":"g"},"fill":{"field":"g"}}},
{"transform":[{"filter":"datum.x2"}],"mark":"rule","encoding":{"x2":{"field":"x2"}}},
{"transform":[{"filter":"datum.t"}],"mark":{"type":"text","style":"pi","text":"p"}},
{"transform":[{"filter":"datum.t"}],"mark":{"type":"text","style":"pt"},"encoding":{"text":{"field":"t"}}}]},

{"data":{"values":[{"g":"HD","x":1.23,"y":93.6},{"g":"HD","x":0.78,"y":89},{"g":"HD","x":1,"y":88},{"g":"HD","x":1.11,"y":89},{"g":"HD","x":0.87,"y":82.5},{"g":"HD","x":0.98,"y":81},{"g":"HD","x":1.11,"y":82},{"g":"HD","x":0.83,"y":79},{"g":"HD","x":0.95,"y":76},{"g":"HD","x":1.21,"y":64},{"g":"HD","x":0.79,"y":53.5},{"g":"HD","x":1,"y":53},{"g":"HD","x":1,"y":23.4},
{"g":"MM1","x":1.78,"y":93},{"g":"MM1","x":2.24,"y":92},{"g":"MM1","x":1.93,"y":90},{"g":"MM1","x":2.08,"y":88},{"g":"MM1","x":1.78,"y":85},{"g":"MM1","x":2.24,"y":85},{"g":"MM1","x":1.9,"y":82.5},{"g":"MM1","x":2.1,"y":81},{"g":"MM1","x":1.78,"y":76},{"g":"MM1","x":1.9,"y":72.7},{"g":"MM1","x":2.1,"y":70.7},{"g":"MM1","x":2.24,"y":74},{"g":"MM1","x":2,"y":64},{"g":"MM1","x":1.78,"y":82},{"g":"MM1","x":2.24,"y":82},
{"g":"MM2","x":3,"y":36},{"g":"MM2","x":2.83,"y":26},{"g":"MM2","x":3.1,"y":25.6},{"g":"MM2","x":2.92,"y":18},{"g":"MM2","x":3.15,"y":19},{"g":"MM2","x":3.04,"y":16},{"g":"MM2","x":2.89,"y":9},{"g":"MM2","x":3.1,"y":9},{"g":"MM2","x":3.15,"y":7},{"g":"MM2","x":2.83,"y":4},{"g":"MM2","x":2.94,"y":0.5},{"g":"MM2","x":3.04,"y":1},
{"x":0.67,"x2":1.33,"y":82},{"x":1.68,"x2":2.33,"y":84},{"x":2.67,"x2":3.32,"y":17.5},{"x":0.89,"x2":3.25,"y":136.8},{"x":2.06,"x2":3.24,"y":115},
{"x":1.63,"y":145,"t":"< 0.0001"},{"x":2.23,"y":123,"t":"< 0.0001"}]},
"encoding":{"x":{"field":"x","type":"quantitative","scale":{"domain":[0.49,3.485],"range":[786.9,966.6]},"axis":{"orient":"bottom","offset":-1078,"values":[1,2,3],"labelExpr":"['','HD','MM1','MM2'][datum.value]","title":null}},"y":{"field":"y","type":"quantitative","scale":{"domain":[0,100],"range":[893,773.3]},"axis":{"orient":"left","offset":-786.9,"values":[0,20,40,60,80,100],"title":"%CD64 ˡᵒʷ mN","titleX":-54.9,"titleY":828}}},
"layer":[
{"transform":[{"filter":"datum.g"}],"mark":"point","encoding":{"shape":{"field":"g"},"fill":{"field":"g"}}},
{"transform":[{"filter":"datum.x2"}],"mark":"rule","encoding":{"x2":{"field":"x2"}}},
{"transform":[{"filter":"datum.t"}],"mark":{"type":"text","style":"pi","text":"p"}},
{"transform":[{"filter":"datum.t"}],"mark":{"type":"text","style":"pt"},"encoding":{"text":{"field":"t"}}}]},

{"data":{"values":[{"b":"neg","x":0.72,"x2":1.28,"y":0,"y2":24},{"b":"low","x":0.72,"x2":1.28,"y":24,"y2":99},{"b":"high","x":0.72,"x2":1.28,"y":99,"y2":100},{"b":"neg","x":1.72,"x2":2.28,"y":0,"y2":9},{"b":"low","x":1.72,"x2":2.28,"y":9,"y2":92},{"b":"high","x":1.72,"x2":2.28,"y":92,"y2":100},{"b":"low","x":2.72,"x2":3.28,"y":0,"y2":16},{"b":"high","x":2.72,"x2":3.28,"y":16,"y2":100},
{"g":"neg","x":3.55,"y":95.9},{"g":"low","x":3.55,"y":73.3},{"g":"high","x":3.55,"y":53},{"t":"CD64ⁿᵉᵍ","x":3.74,"y":95.9},{"t":"CD64ˡᵒʷ","x":3.74,"y":73.3},{"t":"CD64ʰⁱᵍʰ","x":3.74,"y":53}]},
"encoding":{"x":{"field":"x","type":"quantitative","scale":{"domain":[0.456,3.48],"range":[1083,1275]},"axis":{"orient":"bottom","offset":-1078.7,"values":[1,2,3],"labelExpr":"['','HD','MM1','MM2'][datum.value]","title":null}},"y":{"field":"y","type":"quantitative","scale":{"domain":[0,100],"range":[892.3,770]},"axis":{"orient":"left","offset":-1083,"values":[0,20,40,60,80,100],"title":"Percent of mNs","titleX":-42.4,"titleY":826.7,"titleFontSize":24.5}}},
"layer":[
{"transform":[{"filter":"datum.b"}],"mark":{"type":"rect","stroke":"#222","strokeWidth":1.5},"encoding":{"x2":{"field":"x2"},"y2":{"field":"y2"},"fill":{"field":"b"}}},
{"transform":[{"filter":"datum.g"}],"mark":{"type":"point","shape":"square","size":170,"strokeWidth":2.5},"encoding":{"fill":{"field":"g"}}},
{"transform":[{"filter":"datum.t"}],"mark":{"type":"text","fontWeight":"bold","fontSize":20,"align":"left"},"encoding":{"text":{"field":"t"}}}]},

{"data":{"values":[{"g":"HD","x":1.1,"y":9430},{"g":"HD","x":0.89,"y":9100},{"g":"HD","x":0.89,"y":7870},{"g":"HD","x":1.1,"y":7810},{"g":"HD","x":1.1,"y":6900},{"g":"HD","x":0.89,"y":6700},{"g":"HD","x":0.72,"y":6370},{"g":"HD","x":1,"y":6300},{"g":"HD","x":1.25,"y":6370},{"g":"HD","x":0.77,"y":5770},{"g":"HD","x":0.77,"y":5330},{"g":"HD","x":1,"y":5400},{"g":"HD","x":1.22,"y":5330},{"g":"HD","x":0.89,"y":4860},{"g":"HD","x":1.1,"y":4730},{"g":"HD","x":1,"y":4260},
{"g":"MM1","x":2,"y":8000},{"g":"MM1","x":1.77,"y":7320},{"g":"MM1","x":2.22,"y":7460},{"g":"MM1","x":1.89,"y":6780},{"g":"MM1","x":2.11,"y":6860},{"g":"MM1","x":2,"y":6450},{"g":"MM1","x":1.75,"y":5930},{"g":"MM1","x":2.25,"y":5980},{"g":"MM1","x":2.08,"y":5550},{"g":"MM1","x":1.92,"y":5080},{"g":"MM1","x":1.81,"y":4540},{"g":"MM1","x":2.11,"y":4540},{"g":"MM1","x":1.88,"y":3990},{"g":"MM1","x":1.78,"y":3420},{"g":"MM1","x":2.04,"y":3690},{"g":"MM1","x":2.21,"y":3900},{"g":"MM1","x":2.21,"y":3280},{"g":"MM1","x":2,"y":2490},{"g":"MM1","x":2.11,"y":4235},{"g":"MM1","x":1.89,"y":4450},
{"g":"MM2","x":3,"y":7950},{"g":"MM2","x":3.11,"y":5400},{"g":"MM2","x":2.9,"y":4860},{"g":"MM2","x":2.78,"y":4040},{"g":"MM2","x":3.23,"y":4130},{"g":"MM2","x":3.11,"y":3630},{"g":"MM2","x":2.89,"y":3470},{"g":"MM2","x":3,"y":3090},{"g":"MM2","x":2.78,"y":2490},{"g":"MM2","x":2.89,"y":2490},{"g":"MM2","x":3.23,"y":2490},{"g":"MM2","x":3.11,"y":1860},{"g":"MM2","x":3,"y":1690},
{"x":0.67,"x2":1.33,"y":6400},{"x":1.67,"x2":2.33,"y":4500},{"x":2.67,"x2":3.33,"y":3500},{"x":0.89,"x2":3.27,"y":12460},{"x":0.83,"x2":1.88,"y":10190},{"x":2.07,"x2":3.26,"y":10190},
{"x":1.65,"y":13390,"t":"< 0.001"},{"x":1.08,"y":11090,"t":"< 0.05"},{"x":2.42,"y":11090,"t":"< 0.05"}]},
"encoding":{"x":{"field":"x","type":"quantitative","scale":{"domain":[0.48,3.5],"range":[95.5,278.7]},"axis":{"orient":"bottom","offset":-800,"values":[1,2,3],"labelExpr":"['','HD','MM1','MM2'][datum.value]","title":null}},"y":{"field":"y","type":"quantitative","scale":{"domain":[0,10000],"range":[1171,1049]},"axis":{"orient":"left","offset":-95.5,"values":[0,2000,4000,6000,8000,10000],"title":"CXCR2 MFI","titleX":-70.5,"titleY":1105.5}}},
"layer":[
{"transform":[{"filter":"datum.g"}],"mark":"point","encoding":{"shape":{"field":"g"},"fill":{"field":"g"}}},
{"transform":[{"filter":"datum.x2"}],"mark":"rule","encoding":{"x2":{"field":"x2"}}},
{"transform":[{"filter":"datum.t"}],"mark":{"type":"text","style":"pi","text":"p"}},
{"transform":[{"filter":"datum.t"}],"mark":{"type":"text","style":"pt"},"encoding":{"text":{"field":"t"}}}]},

{"data":{"values":[{"g":"HD","x":0.9,"y":4920},{"g":"HD","x":1.1,"y":4550},{"g":"HD","x":0.78,"y":3800},{"g":"HD","x":1.21,"y":3430},{"g":"HD","x":1,"y":3380},{"g":"HD","x":0.74,"y":2830},{"g":"HD","x":0.91,"y":2730},{"g":"HD","x":1.26,"y":2830},{"g":"HD","x":1.08,"y":2460},{"g":"HD","x":0.9,"y":2060},{"g":"HD","x":1.16,"y":1960},{"g":"HD","x":0.84,"y":1870},{"g":"HD","x":0.95,"y":1580},{"g":"HD","x":1.07,"y":1580},
{"g":"MM1","x":2,"y":4310},{"g":"MM1","x":2,"y":2510},{"g":"MM1","x":1.87,"y":2270},{"g":"MM1","x":2.1,"y":2140},{"g":"MM1","x":1.83,"y":1980},{"g":"MM1","x":1.99,"y":1870},{"g":"MM1","x":2.16,"y":1870},{"g":"MM1","x":1.75,"y":1400},{"g":"MM1","x":2.08,"y":1660},{"g":"MM1","x":2.25,"y":1400},{"g":"MM1","x":1.92,"y":1060},{"g":"MM1","x":2.08,"y":1170},
{"g":"MM2","x":2.89,"y":2090},{"g":"MM2","x":3.1,"y":1740},{"g":"MM2","x":2.85,"y":1210},{"g":"MM2","x":3.16,"y":1210},{"g":"MM2","x":2.95,"y":930},{"g":"MM2","x":3.05,"y":1010},{"g":"MM2","x":2.83,"y":1130},
{"x":0.67,"x2":1.32,"y":2800},{"x":1.67,"x2":2.33,"y":1850},{"x":2.67,"x2":3.33,"y":1250},{"x":0.89,"x2":3.25,"y":7320},{"x":0.84,"x2":1.88,"y":5970},{"x":2.07,"x2":3.25,"y":5970},
{"x":1.73,"y":7830,"t":"< 0.001"},{"x":1.08,"y":6480,"t":"< 0.05"},{"x":2.42,"y":6480,"t":"< 0.05"}]},
"encoding":{"x":{"field":"x","type":"quantitative","scale":{"domain":[0.488,3.49],"range":[439.9,625.3]},"axis":{"orient":"bottom","offset":-800,"values":[1,2,3],"labelExpr":"['','HD','MM1','MM2'][datum.value]","title":null}},"y":{"field":"y","type":"quantitative","scale":{"domain":[0,6000],"range":[1171,1046.7]},"axis":{"orient":"left","offset":-439.9,"values":[0,2000,4000,6000],"title":"CD10 MFI","titleX":-67.1,"titleY":1104.7}}},
"layer":[
{"transform":[{"filter":"datum.g"}],"mark":"point","encoding":{"shape":{"field":"g"},"fill":{"field":"g"}}},
{"transform":[{"filter":"datum.x2"}],"mark":"rule","encoding":{"x2":{"field":"x2"}}},
{"transform":[{"filter":"datum.t"}],"mark":{"type":"text","style":"pi","text":"p"}},
{"transform":[{"filter":"datum.t"}],"mark":{"type":"text","style":"pt"},"encoding":{"text":{"field":"t"}}}]},

{"data":{"values":[{"g":"HD","x":0.79,"y":613},{"g":"HD","x":1.21,"y":595},{"g":"HD","x":1,"y":581},{"g":"HD","x":0.75,"y":527},{"g":"HD","x":1.24,"y":532},{"g":"HD","x":0.91,"y":527},{"g":"HD","x":1.15,"y":465},{"g":"HD","x":0.75,"y":451},{"g":"HD","x":0.85,"y":405},{"g":"HD","x":1.07,"y":419},{"g":"HD","x":1.23,"y":424},{"g":"HD","x":0.94,"y":386},{"g":"HD","x":1.1,"y":365},{"g":"HD","x":1,"y":338},
{"g":"MM1","x":2.1,"y":676},{"g":"MM1","x":1.9,"y":662},{"g":"MM1","x":1.76,"y":581},{"g":"MM1","x":2.24,"y":586},{"g":"MM1","x":1.76,"y":540},{"g":"MM1","x":1.9,"y":532},{"g":"MM1","x":2.13,"y":540},{"g":"MM1","x":2.24,"y":540},{"g":"MM1","x":1.76,"y":486},{"g":"MM1","x":1.9,"y":473},{"g":"MM1","x":2,"y":459},{"g":"MM1","x":2.24,"y":486},{"g":"MM1","x":2,"y":411},{"g":"MM1","x":2.13,"y":413},
{"g":"MM2","x":2.79,"y":978},{"g":"MM2","x":3,"y":911},{"g":"MM2","x":3.2,"y":919},{"g":"MM2","x":2.9,"y":784},{"g":"MM2","x":3.1,"y":708},{"g":"MM2","x":2.79,"y":627},{"g":"MM2","x":3.2,"y":603},{"g":"MM2","x":3,"y":581},
{"x":0.67,"x2":1.33,"y":460},{"x":1.67,"x2":2.33,"y":535},{"x":2.67,"x2":3.33,"y":745},{"x":0.87,"x2":3.04,"y":1273},{"x":1.99,"x2":3.04,"y":1057},
{"x":1.73,"y":1360,"t":"< 0.001"},{"x":2.29,"y":1135,"t":"< 0.01"}]},
"encoding":{"x":{"field":"x","type":"quantitative","scale":{"domain":[0.49,3.49],"range":[783.7,968.9]},"axis":{"orient":"bottom","offset":-801,"values":[1,2,3],"labelExpr":"['','HD','MM1','MM2'][datum.value]","title":null}},"y":{"field":"y","type":"quantitative","scale":{"domain":[0,1000],"range":[1170,1046.7]},"axis":{"orient":"left","offset":-783.7,"values":[0,200,400,600,800,1000],"title":"CD54 MFI","titleX":-66.3,"titleY":1104}}},
"layer":[
{"transform":[{"filter":"datum.g"}],"mark":"point","encoding":{"shape":{"field":"g"},"fill":{"field":"g"}}},
{"transform":[{"filter":"datum.x2"}],"mark":"rule","encoding":{"x2":{"field":"x2"}}},
{"transform":[{"filter":"datum.t"}],"mark":{"type":"text","style":"pi","text":"p"}},
{"transform":[{"filter":"datum.t"}],"mark":{"type":"text","style":"pt"},"encoding":{"text":{"field":"t"}}}]},

{"data":{"values":[{"g":"HD","x":1,"y":522000},{"g":"HD","x":0.9,"y":421000},{"g":"HD","x":1.11,"y":406000},{"g":"HD","x":1.11,"y":313000},{"g":"HD","x":0.9,"y":297000},{"g":"HD","x":0.76,"y":260000},{"g":"HD","x":1.26,"y":244000},{"g":"HD","x":0.9,"y":202000},{"g":"HD","x":1.11,"y":205000},{"g":"HD","x":1,"y":222000},{"g":"HD","x":1.17,"y":169000},{"g":"HD","x":0.85,"y":161000},{"g":"HD","x":0.96,"y":152000},{"g":"HD","x":1.08,"y":152000},{"g":"HD","x":0.9,"y":177000},
{"g":"MM1","x":2,"y":398000},{"g":"MM1","x":2.11,"y":268000},{"g":"MM1","x":1.89,"y":249000},{"g":"MM1","x":1.77,"y":235000},{"g":"MM1","x":2.23,"y":235000},{"g":"MM1","x":1.82,"y":215000},{"g":"MM1","x":2.12,"y":210000},{"g":"MM1","x":2,"y":186000},{"g":"MM1","x":1.89,"y":174000},{"g":"MM1","x":1.77,"y":161000},{"g":"MM1","x":2.22,"y":161000},{"g":"MM1","x":2.05,"y":156000},{"g":"MM1","x":1.86,"y":144000},{"g":"MM1","x":2.12,"y":128000},{"g":"MM1","x":1.92,"y":106000},{"g":"MM1","x":2,"y":106000},{"g":"MM1","x":2.08,"y":111000},
{"g":"MM2","x":3.11,"y":260000},{"g":"MM2","x":2.89,"y":235000},{"g":"MM2","x":3.21,"y":202000},{"g":"MM2","x":2.77,"y":186000},{"g":"MM2","x":3.11,"y":177000},{"g":"MM2","x":2.89,"y":144000},{"g":"MM2","x":3,"y":156000},{"g":"MM2","x":3.16,"y":141000},{"g":"MM2","x":2.84,"y":103000},{"g":"MM2","x":3.05,"y":106000},{"g":"MM2","x":2.94,"y":86000},{"g":"MM2","x":3.11,"y":136000},
{"x":0.67,"x2":1.34,"y":222000},{"x":1.67,"x2":2.33,"y":185000},{"x":2.67,"x2":3.33,"y":168000},{"x":1.02,"x2":3.03,"y":645000},
{"x":1.75,"y":694000,"t":"< 0.01"}]},
"encoding":{"x":{"field":"x","type":"quantitative","scale":{"domain":[0.488,3.485],"range":[1157,1337.9]},"axis":{"orient":"bottom","offset":-800.3,"values":[1,2,3],"labelExpr":"['','HD','MM1','MM2'][datum.value]","title":null}},"y":{"field":"y","type":"quantitative","scale":{"domain":[0,600000],"range":[1170.7,1050]},"axis":{"orient":"left","offset":-1157,"values":[0,200000,400000,600000],"title":"CD15 MFI","titleX":-74,"titleY":1106.3}}},
"layer":[
{"transform":[{"filter":"datum.g"}],"mark":"point","encoding":{"shape":{"field":"g"},"fill":{"field":"g"}}},
{"transform":[{"filter":"datum.x2"}],"mark":"rule","encoding":{"x2":{"field":"x2"}}},
{"transform":[{"filter":"datum.t"}],"mark":{"type":"text","style":"pi","text":"p"}},
{"transform":[{"filter":"datum.t"}],"mark":{"type":"text","style":"pt"},"encoding":{"text":{"field":"t"}}}]},

{"data":{"values":[{"g":"HD","x":1.01,"y":700},{"g":"HD","x":0.9,"y":250},{"g":"HD","x":0.76,"y":160},{"g":"HD","x":1.13,"y":175},{"g":"HD","x":1.22,"y":130},{"g":"HD","x":0.88,"y":60},{"g":"HD","x":1.01,"y":30},{"g":"HD","x":0.78,"y":-75},{"g":"HD","x":1.09,"y":-40},{"g":"HD","x":1.24,"y":-130},{"g":"HD","x":0.9,"y":-160},{"g":"HD","x":1.05,"y":-175},{"g":"HD","x":1.01,"y":-330},
{"g":"MM1","x":2.24,"y":210},{"g":"MM1","x":1.78,"y":150},{"g":"MM1","x":2.09,"y":95},{"g":"MM1","x":1.89,"y":30},{"g":"MM1","x":1.78,"y":-40},{"g":"MM1","x":2,"y":-40},{"g":"MM1","x":2.24,"y":-60},{"g":"MM1","x":1.89,"y":-110},{"g":"MM1","x":2.09,"y":-90},{"g":"MM1","x":2,"y":-275},{"g":"MM1","x":2.16,"y":-10},{"g":"MM1","x":1.94,"y":-75},
{"g":"MM2","x":3,"y":1780},{"g":"MM2","x":2.9,"y":900},{"g":"MM2","x":3.11,"y":680},{"g":"MM2","x":2.78,"y":330},{"g":"MM2","x":3.22,"y":210},{"g":"MM2","x":2.89,"y":195},{"g":"MM2","x":3,"y":130},{"g":"MM2","x":3.11,"y":140},
{"x":0.68,"x2":1.33,"y":40},{"x":1.67,"x2":2.33,"y":-30},{"x":2.68,"x2":3.33,"y":290},{"x":1.03,"x2":3.04,"y":2552},{"x":2,"x2":3.04,"y":2000},
{"x":1.79,"y":2754,"t":"< 0.01"},{"x":2.2,"y":2196,"t":"< 0.001"}]},
"encoding":{"x":{"field":"x","type":"quantitative","scale":{"domain":[0.482,3.48],"range":[95.5,281.5]},"axis":{"orient":"bottom","offset":-573.3,"values":[1,2,3],"labelExpr":"['','HD','MM1','MM2'][datum.value]","title":null}},"y":{"field":"y","type":"quantitative","scale":{"domain":[-500,2000],"range":[1397.7,1274]},"axis":{"orient":"left","offset":-95.5,"values":[-500,0,500,1000,1500,2000],"labelExpr":"''+datum.value","title":"PD-L1 MFI","titleX":-65.7,"titleY":1330.8}}},
"layer":[
{"transform":[{"filter":"datum.g"}],"mark":"point","encoding":{"shape":{"field":"g"},"fill":{"field":"g"}}},
{"transform":[{"filter":"datum.x2"}],"mark":"rule","encoding":{"x2":{"field":"x2"}}},
{"transform":[{"filter":"datum.t"}],"mark":{"type":"text","style":"pi","text":"p"}},
{"transform":[{"filter":"datum.t"}],"mark":{"type":"text","style":"pt"},"encoding":{"text":{"field":"t"}}}]},

{"data":{"values":[{"g":"HD","x":0.9,"y":6260},{"g":"HD","x":1.11,"y":6380},{"g":"HD","x":0.89,"y":4670},{"g":"HD","x":1.11,"y":4510},{"g":"HD","x":0.76,"y":4100},{"g":"HD","x":1.21,"y":4020},{"g":"HD","x":0.98,"y":3700},{"g":"HD","x":0.87,"y":3170},{"g":"HD","x":1.15,"y":3090},{"g":"HD","x":0.95,"y":2680},{"g":"HD","x":1.06,"y":2480},
{"g":"MM1","x":2,"y":12030},{"g":"MM1","x":1.78,"y":6750},{"g":"MM1","x":2.23,"y":6140},{"g":"MM1","x":1.9,"y":5850},{"g":"MM1","x":2.1,"y":5730},{"g":"MM1","x":2,"y":5320},{"g":"MM1","x":1.78,"y":4720},{"g":"MM1","x":2.18,"y":4630},{"g":"MM1","x":1.9,"y":4100},{"g":"MM1","x":2.1,"y":3900},{"g":"MM1","x":1.75,"y":3090},{"g":"MM1","x":2,"y":3410},{"g":"MM1","x":2.25,"y":3290},{"g":"MM1","x":1.88,"y":3090},{"g":"MM1","x":2.04,"y":2890},{"g":"MM1","x":1.92,"y":1790},
{"g":"MM2","x":3,"y":6630},{"g":"MM2","x":2.77,"y":4720},{"g":"MM2","x":3.24,"y":4840},{"g":"MM2","x":2.89,"y":4310},{"g":"MM2","x":3.03,"y":4190},{"g":"MM2","x":3.14,"y":4310},{"g":"MM2","x":2.98,"y":3900},{"g":"MM2","x":2.77,"y":1870},{"g":"MM2","x":3.25,"y":2070},{"g":"MM2","x":2.93,"y":1670},{"g":"MM2","x":3.09,"y":1750},
{"x":0.68,"x2":1.32,"y":3800},{"x":1.67,"x2":2.33,"y":3900},{"x":2.68,"x2":3.33,"y":4300}]},
"encoding":{"x":{"field":"x","type":"quantitative","scale":{"domain":[0.493,3.5],"range":[439.4,624.4]},"axis":{"orient":"bottom","offset":-574,"values":[1,2,3],"labelExpr":"['','HD','MM1','MM2'][datum.value]","title":null}},"y":{"field":"y","type":"quantitative","scale":{"domain":[0,15000],"range":[1397,1274]},"axis":{"orient":"left","offset":-439.4,"values":[0,5000,10000,15000],"title":"CD66b MFI","titleX":-67.4,"titleY":1330.5}}},
"layer":[
{"transform":[{"filter":"datum.g"}],"mark":"point","encoding":{"shape":{"field":"g"},"fill":{"field":"g"}}},
{"transform":[{"filter":"datum.x2"}],"mark":"rule","encoding":{"x2":{"field":"x2"}}}]},

{"data":{"values":[{"g":"HD","x":1.11,"y":3640},{"g":"HD","x":0.9,"y":3410},{"g":"HD","x":0.9,"y":2630},{"g":"HD","x":0.79,"y":2330},{"g":"HD","x":1.11,"y":2400},{"g":"HD","x":1.01,"y":1830},{"g":"HD","x":1.22,"y":1870},{"g":"HD","x":0.75,"y":1600},{"g":"HD","x":0.9,"y":1290},{"g":"HD","x":1.11,"y":1330},{"g":"HD","x":0.75,"y":1110},{"g":"HD","x":1.26,"y":1160},{"g":"HD","x":0.91,"y":670},{"g":"HD","x":1.09,"y":730},
{"g":"MM1","x":2.11,"y":4560},{"g":"MM1","x":1.89,"y":4040},{"g":"MM1","x":1.89,"y":3310},{"g":"MM1","x":2.11,"y":3270},{"g":"MM1","x":1.77,"y":2570},{"g":"MM1","x":2.23,"y":2400},{"g":"MM1","x":1.89,"y":2310},{"g":"MM1","x":2.11,"y":2160},{"g":"MM1","x":2,"y":2000},{"g":"MM1","x":1.79,"y":2270},{"g":"MM1","x":1.94,"y":1670},{"g":"MM1","x":1.78,"y":1360},{"g":"MM1","x":2.05,"y":1530},{"g":"MM1","x":2.22,"y":1360},{"g":"MM1","x":1.89,"y":1130},{"g":"MM1","x":2.12,"y":1000},{"g":"MM1","x":2,"y":870},{"g":"MM1","x":1.78,"y":1730},{"g":"MM1","x":2.16,"y":1730},
{"g":"MM2","x":3,"y":2930},{"g":"MM2","x":2.99,"y":2240},{"g":"MM2","x":2.82,"y":1930},{"g":"MM2","x":3.13,"y":2070},{"g":"MM2","x":2.93,"y":1600},{"g":"MM2","x":3.17,"y":1800},{"g":"MM2","x":3.04,"y":1600},{"g":"MM2","x":2.76,"y":1330},{"g":"MM2","x":3.22,"y":1330},{"g":"MM2","x":2.88,"y":1230},{"g":"MM2","x":3.11,"y":1070},{"g":"MM2","x":2.99,"y":930},
{"x":0.68,"x2":1.33,"y":1600},{"x":1.67,"x2":2.33,"y":1900},{"x":2.67,"x2":3.33,"y":1700}]},
"encoding":{"x":{"field":"x","type":"quantitative","scale":{"domain":[0.495,3.49],"range":[783.7,970.7]},"axis":{"orient":"bottom","offset":-574.3,"values":[1,2,3],"labelExpr":"['','HD','MM1','MM2'][datum.value]","title":null}},"y":{"field":"y","type":"quantitative","scale":{"domain":[0,5000],"range":[1396.7,1271.7]},"axis":{"orient":"left","offset":-783.7,"values":[0,1000,2000,3000,4000,5000],"title":"CD63 MFI","titleX":-65.4,"titleY":1330}}},
"layer":[
{"transform":[{"filter":"datum.g"}],"mark":"point","encoding":{"shape":{"field":"g"},"fill":{"field":"g"}}},
{"transform":[{"filter":"datum.x2"}],"mark":"rule","encoding":{"x2":{"field":"x2"}}}]},

{"data":{"values":[{"g":"HD","x":1,"y":62600},{"g":"HD","x":1,"y":47300},{"g":"HD","x":1.11,"y":37700},{"g":"HD","x":0.9,"y":33400},{"g":"HD","x":1.24,"y":27700},{"g":"HD","x":0.79,"y":22900},{"g":"HD","x":1,"y":22900},{"g":"HD","x":1.11,"y":21400},{"g":"HD","x":0.9,"y":19600},{"g":"HD","x":0.85,"y":13100},{"g":"HD","x":1.16,"y":13700},{"g":"HD","x":0.96,"y":11600},{"g":"HD","x":1.07,"y":11600},
{"g":"MM1","x":2,"y":39200},{"g":"MM1","x":1.8,"y":31600},{"g":"MM1","x":2,"y":30300},{"g":"MM1","x":2.21,"y":31000},{"g":"MM1","x":2.22,"y":22200},{"g":"MM1","x":1.78,"y":21400},{"g":"MM1","x":1.91,"y":20300},{"g":"MM1","x":2.1,"y":20700},{"g":"MM1","x":1.74,"y":15900},{"g":"MM1","x":2.28,"y":16800},{"g":"MM1","x":1.87,"y":17400},{"g":"MM1","x":2.02,"y":17400},{"g":"MM1","x":2.15,"y":15300},{"g":"MM1","x":1.84,"y":13100},{"g":"MM1","x":1.95,"y":11600},{"g":"MM1","x":2.04,"y":11600},{"g":"MM1","x":1.78,"y":15300},
{"g":"MM2","x":2.78,"y":25100},{"g":"MM2","x":2.89,"y":26200},{"g":"MM2","x":3.11,"y":25100},{"g":"MM2","x":3.2,"y":22900},{"g":"MM2","x":2.74,"y":20700},{"g":"MM2","x":3.04,"y":19200},{"g":"MM2","x":2.89,"y":18500},{"g":"MM2","x":3.15,"y":19600},{"g":"MM2","x":2.76,"y":15300},{"g":"MM2","x":3.22,"y":14600},{"g":"MM2","x":2.89,"y":14600},{"g":"MM2","x":3.11,"y":8100},{"g":"MM2","x":3,"y":6500},
{"x":0.68,"x2":1.33,"y":22500},{"x":1.67,"x2":2.33,"y":19000},{"x":2.67,"x2":3.34,"y":20000}]},
"encoding":{"x":{"field":"x","type":"quantitative","scale":{"domain":[0.487,3.487],"range":[1157,1340]},"axis":{"orient":"bottom","offset":-572.7,"values":[1,2,3],"labelExpr":"['','HD','MM1','MM2'][datum.value]","title":null}},"y":{"field":"y","type":"quantitative","scale":{"domain":[0,80000],"range":[1398.3,1276]},"axis":{"orient":"left","offset":-1157,"values":[0,20000,40000,60000,80000],"title":"CD62L MFI","titleX":-70.6,"titleY":1333}}},
"layer":[
{"transform":[{"filter":"datum.g"}],"mark":"point","encoding":{"shape":{"field":"g"},"fill":{"field":"g"}}},
{"transform":[{"filter":"datum.x2"}],"mark":"rule","encoding":{"x2":{"field":"x2"}}}]},

{"data":{"values":[{"g":"MM1","x":1,"y":10.2},{"g":"MM1","x":0.93,"y":5.3},{"g":"MM1","x":0.79,"y":2.6},{"g":"MM1","x":1.07,"y":3.1},{"g":"MM1","x":1.21,"y":2.9},{"g":"MM1","x":0.93,"y":0},{"g":"MM1","x":1.07,"y":0},
{"g":"MM2","x":2,"y":24.4},{"g":"MM2","x":1.93,"y":22.6},{"g":"MM2","x":2.07,"y":20.3},{"g":"MM2","x":2.07,"y":9.8},{"g":"MM2","x":1.93,"y":7.6},
{"x":0.67,"x2":1.34,"y":3},{"x":1.67,"x2":2.34,"y":20.7},{"x":0.98,"x2":2,"y":28.7},{"x":1.33,"y":31.1,"t":"< 0.02"}]},
"encoding":{"x":{"field":"x","type":"quantitative","scale":{"domain":[0.506,2.494],"range":[94,288.3]},"axis":{"orient":"bottom","offset":-289.3,"values":[1,2],"labelExpr":"['','MM1','MM2'][datum.value]","title":null,"labelFontSize":25}},"y":{"field":"y","type":"quantitative","scale":{"domain":[0,30],"range":[1681.7,1552.3]},"axis":{"orient":"left","offset":-94,"values":[0,10,20,30],"title":"% Ki67⁺ imNs","titleX":-48,"titleY":1612.5,"titleFontSize":27.5,"labelFontSize":18}}},
"layer":[
{"transform":[{"filter":"datum.g"}],"mark":"point","encoding":{"shape":{"field":"g"},"fill":{"field":"g"}}},
{"transform":[{"filter":"datum.x2"}],"mark":"rule","encoding":{"x2":{"field":"x2"}}},
{"transform":[{"filter":"datum.t"}],"mark":{"type":"text","style":"pi","text":"p"}},
{"transform":[{"filter":"datum.t"}],"mark":{"type":"text","style":"pt"},"encoding":{"text":{"field":"t"}}}]},

{"data":{"values":[{"a":"hr","x":38,"y":0},{"a":"hr","x":41.8,"y":5},{"a":"hr","x":44.3,"y":20},{"a":"hr","x":46,"y":50},{"a":"hr","x":48,"y":64},{"a":"hr","x":50.7,"y":60},{"a":"hr","x":53.2,"y":40},{"a":"hr","x":55.7,"y":20},{"a":"hr","x":59.5,"y":11},{"a":"hr","x":67,"y":11},{"a":"hr","x":72,"y":10},{"a":"hr","x":76,"y":3},{"a":"hr","x":79,"y":0},{"a":"hr","x":81.6,"y":0},{"a":"hr","x":84,"y":13},{"a":"hr","x":86,"y":8},{"a":"hr","x":88.7,"y":6},{"a":"hr","x":91,"y":8},{"a":"hr","x":95,"y":5},{"a":"hr","x":100,"y":0},
{"a":"hf","x":30.4,"y":0},{"a":"hf","x":34,"y":5},{"a":"hf","x":38,"y":18},{"a":"hf","x":40.5,"y":32},{"a":"hf","x":42.5,"y":47},{"a":"hf","x":44.3,"y":40},{"a":"hf","x":45.6,"y":33},{"a":"hf","x":48,"y":42},{"a":"hf","x":50,"y":41},{"a":"hf","x":52.7,"y":25},{"a":"hf","x":55.7,"y":8},{"a":"hf","x":59.5,"y":7},{"a":"hf","x":63.3,"y":5},{"a":"hf","x":67,"y":2},{"a":"hf","x":71,"y":0},{"a":"hf","x":86,"y":0},{"a":"hf","x":88.5,"y":1},{"a":"hf","x":91,"y":0},
{"h":"FMO","x":31.7,"y":0},{"h":"FMO","x":34.2,"y":5},{"h":"FMO","x":35.5,"y":20},{"h":"FMO","x":36.7,"y":40},{"h":"FMO","x":38,"y":58},{"h":"FMO","x":39.3,"y":65},{"h":"FMO","x":40.5,"y":58},{"h":"FMO","x":41.8,"y":40},{"h":"FMO","x":43,"y":25},{"h":"FMO","x":44.3,"y":12},{"h":"FMO","x":45.6,"y":4},{"h":"FMO","x":48,"y":0},
{"f":1,"x":0,"x2":100,"y":-0.6,"y2":84.4},{"r":1,"x":59,"x2":66,"y":70,"y2":70},
{"g":"hb","x":62.6,"y":57},{"g":"hr","x":62.6,"y":43.7},{"t":"FMO","x":70.4,"y":70},{"t":"MM1","x":70.4,"y":57},{"t":"MM2","x":70.4,"y":43.7}]},
"encoding":{"x":{"field":"x","type":"quantitative","scale":{"domain":[0,100],"range":[440.8,622]},"axis":{"orient":"bottom","offset":-288.3,"values":[10.8,38,70.4,91.7],"labelExpr":"['-10⁴','0','10⁴','10⁵'][indexof([10.8,38,70.4,91.7],datum.value)]","title":"Ki67 MFI","titleX":535,"titleY":47.3,"titleFontSize":26.5,"domainColor":"#666","domainWidth":1,"tickColor":"#666","tickWidth":1,"tickSize":4,"labelFontSize":16,"labelFontWeight":"normal","labelColor":"#333"}},"y":{"field":"y","type":"quantitative","stack":null,"scale":{"domain":[-0.6,84.4],"range":[1682.7,1538.3]},"axis":{"orient":"left","offset":-440.8,"values":[0,20,40,60,80],"title":null,"domainColor":"#666","domainWidth":1,"tickColor":"#444","tickWidth":1.5,"tickSize":5,"labelColor":"#333"}}},
"layer":[
{"transform":[{"filter":"datum.a=='hr'"}],"mark":{"type":"area","opacity":0.85},"encoding":{"fill":{"field":"a"}}},
{"transform":[{"filter":"datum.a=='hf'"}],"mark":{"type":"area","opacity":0.6},"encoding":{"fill":{"field":"a"}}},
{"transform":[{"filter":"datum.h"}],"mark":{"type":"line","stroke":"#111","strokeWidth":1.5},"encoding":{}},
{"transform":[{"filter":"datum.f"}],"mark":{"type":"rect","fillOpacity":0,"stroke":"#888","strokeWidth":1.2},"encoding":{"x2":{"field":"x2"},"y2":{"field":"y2"}}},
{"transform":[{"filter":"datum.r"}],"mark":{"type":"rule","strokeWidth":2.5},"encoding":{"x2":{"field":"x2"},"y2":{"field":"y2"}}},
{"transform":[{"filter":"datum.g"}],"mark":{"type":"point","shape":"square","size":110,"strokeWidth":2},"encoding":{"fill":{"field":"g"}}},
{"transform":[{"filter":"datum.t"}],"mark":{"type":"text","fontWeight":"bold","fontSize":17,"align":"left"},"encoding":{"text":{"field":"t"}}}]},

{"data":{"values":[{"c":1,"x":20.6,"y":21600},{"c":1,"x":24.6,"y":21600},{"c":1,"x":22.8,"y":9100},{"c":1,"x":2.6,"y":8800},{"c":1,"x":3.3,"y":8500},{"c":1,"x":0,"y":8270},{"c":1,"x":10.3,"y":7500},{"c":1,"x":5.4,"y":5400},{"c":1,"x":7.8,"y":2700},{"c":1,"x":2.9,"y":2140},{"c":1,"x":0,"y":0},
{"r":1,"x":0,"x2":24.4,"y":3450,"y2":17560},{"x":0.84,"y":23270,"t":"R = 0.62"},{"i":1,"x":2.7,"y":19640,"t":"= 0.04"}]},
"encoding":{"x":{"field":"x","type":"quantitative","scale":{"domain":[0,30],"range":[784.6,992.2]},"axis":{"orient":"bottom","offset":-290,"values":[0,10,20,30],"title":"% Ki67⁺ cells","titleX":889,"titleY":46,"titleFontSize":28,"labelFontSize":19,"labelFontWeight":"normal","labelColor":"#222"}},"y":{"field":"y","type":"quantitative","scale":{"domain":[0,25000],"range":[1681,1541]},"axis":{"orient":"left","offset":-784.6,"values":[0,5000,10000,15000,20000,25000],"title":"imN per ml","titleX":-81,"titleY":1605.8,"titleFontSize":31,"labelFontSize":19}}},
"layer":[
{"transform":[{"filter":"datum.r"}],"mark":"rule","encoding":{"x2":{"field":"x2"},"y2":{"field":"y2"}}},
{"transform":[{"filter":"datum.c"}],"mark":{"type":"point","shape":"circle","fill":"white","size":85,"strokeWidth":2.5},"encoding":{}},
{"transform":[{"filter":"datum.i"}],"mark":{"type":"text","style":"pi","text":"p"}},
{"transform":[{"filter":"datum.t"}],"mark":{"type":"text","style":"pt"},"encoding":{"text":{"field":"t"}}}]},

{"data":{"values":[{"c":1,"x":18120,"y":21620},{"c":1,"x":28290,"y":21620},{"c":1,"x":0,"y":8290},{"c":1,"x":8740,"y":8480},{"c":1,"x":12790,"y":9090},{"c":1,"x":16840,"y":7620},{"c":1,"x":24870,"y":8850},{"c":1,"x":29280,"y":5470},{"c":1,"x":9100,"y":2150},{"c":1,"x":11730,"y":2640},{"c":1,"x":10870,"y":0},{"c":1,"x":0,"y":0},
{"r":1,"x":0,"x2":29280,"y":2760,"y2":13700},{"x":850,"y":23340,"t":"R = 0.5"},{"i":1,"x":2765,"y":19840,"t":"= 0.09"}]},
"encoding":{"x":{"field":"x","type":"quantitative","scale":{"domain":[0,30000],"range":[1157.3,1361]},"axis":{"orient":"bottom","offset":-289.3,"values":[0,10000,20000,30000],"title":"Ki67 MFI","titleX":1260,"titleY":48.3,"titleFontSize":26.5,"labelFontSize":19,"labelFontWeight":"normal","labelColor":"#222"}},"y":{"field":"y","type":"quantitative","scale":{"domain":[0,25000],"range":[1681.7,1546]},"axis":{"orient":"left","offset":-1157.3,"values":[0,5000,10000,15000,20000,25000],"title":"imN per ml","titleX":-79.6,"titleY":1609,"titleFontSize":31,"labelFontSize":19}}},
"layer":[
{"transform":[{"filter":"datum.r"}],"mark":"rule","encoding":{"x2":{"field":"x2"},"y2":{"field":"y2"}}},
{"transform":[{"filter":"datum.c"}],"mark":{"type":"point","shape":"circle","fill":"white","size":85,"strokeWidth":2.5},"encoding":{}},
{"transform":[{"filter":"datum.i"}],"mark":{"type":"text","style":"pi","text":"p"}},
{"transform":[{"filter":"datum.t"}],"mark":{"type":"text","style":"pt"},"encoding":{"text":{"field":"t"}}}]},

{"data":{"values":[{"g":"MM1","x":1.07,"y":41250},{"g":"MM1","x":0.93,"y":37200},{"g":"MM1","x":0.93,"y":15160},{"g":"MM1","x":1.07,"y":11090},{"g":"MM1","x":0.73,"y":8800},{"g":"MM1","x":1.28,"y":10270},{"g":"MM1","x":1.17,"y":8300},{"g":"MM1","x":0.84,"y":7000},{"g":"MM1","x":1.06,"y":6360},{"g":"MM1","x":0.95,"y":3900},
{"g":"MM2","x":2,"y":55900},{"g":"MM2","x":2,"y":42200},{"g":"MM2","x":2,"y":24600},{"g":"MM2","x":1.86,"y":18900},{"g":"MM2","x":2.14,"y":18900},{"g":"MM2","x":2,"y":17300},{"g":"MM2","x":1.64,"y":11600},{"g":"MM2","x":2.06,"y":10800},{"g":"MM2","x":2.21,"y":11600},{"g":"MM2","x":1.93,"y":9100},
{"x":0.65,"x2":1.33,"y":9500},{"x":1.66,"x2":2.33,"y":18300},{"x":0.985,"x2":2.015,"y":62900},{"x":1.35,"y":67800,"t":"< 0.05"}]},
"encoding":{"x":{"field":"x","type":"quantitative","scale":{"domain":[0.489,2.494],"range":[94,280]},"axis":{"orient":"bottom","offset":-44,"values":[1,2],"labelExpr":"['','MM1','MM2'][datum.value]","title":null}},"y":{"field":"y","type":"quantitative","scale":{"domain":[0,60000],"range":[1927,1804.3]},"axis":{"orient":"left","offset":-94,"values":[0,20000,40000,60000],"title":"CD64 MFI","titleX":-69,"titleY":1862}}},
"layer":[
{"transform":[{"filter":"datum.g"}],"mark":"point","encoding":{"shape":{"field":"g"},"fill":{"field":"g"}}},
{"transform":[{"filter":"datum.x2"}],"mark":"rule","encoding":{"x2":{"field":"x2"}}},
{"transform":[{"filter":"datum.t"}],"mark":{"type":"text","style":"pi","text":"p"}},
{"transform":[{"filter":"datum.t"}],"mark":{"type":"text","style":"pt"},"encoding":{"text":{"field":"t"}}}]},

{"data":{"values":[{"g":"MM1","x":1,"y":2430},{"g":"MM1","x":1,"y":1960},{"g":"MM1","x":0.935,"y":770},{"g":"MM1","x":1.07,"y":745},{"g":"MM1","x":0.725,"y":600},{"g":"MM1","x":1.275,"y":655},{"g":"MM1","x":0.835,"y":475},{"g":"MM1","x":1.165,"y":500},{"g":"MM1","x":1.05,"y":440},{"g":"MM1","x":0.94,"y":360},
{"g":"MM2","x":2,"y":1730},{"g":"MM2","x":2,"y":1345},{"g":"MM2","x":2.14,"y":950},{"g":"MM2","x":1.735,"y":600},{"g":"MM2","x":1.86,"y":640},{"g":"MM2","x":2,"y":640},{"g":"MM2","x":1.87,"y":420},{"g":"MM2","x":2.26,"y":460},{"g":"MM2","x":2,"y":295},{"g":"MM2","x":2.135,"y":295},
{"x":0.67,"x2":1.33,"y":610},{"x":1.65,"x2":2.33,"y":630}]},
"encoding":{"x":{"field":"x","type":"quantitative","scale":{"domain":[0.49,2.5],"range":[439.9,624.4]},"axis":{"orient":"bottom","offset":-44,"values":[1,2],"labelExpr":"['','MM1','MM2'][datum.value]","title":null}},"y":{"field":"y","type":"quantitative","scale":{"domain":[0,3000],"range":[1927,1805]},"axis":{"orient":"left","offset":-439.9,"values":[0,1000,2000,3000],"title":"CXCR2 MFI","titleX":-68.9,"titleY":1861.7}}},
"layer":[
{"transform":[{"filter":"datum.g"}],"mark":"point","encoding":{"shape":{"field":"g"},"fill":{"field":"g"}}},
{"transform":[{"filter":"datum.x2"}],"mark":"rule","encoding":{"x2":{"field":"x2"}}}]},

{"data":{"values":[{"g":"MM1","x":0.86,"y":272},{"g":"MM1","x":1,"y":254},{"g":"MM1","x":1.14,"y":274},{"g":"MM1","x":0.86,"y":216},{"g":"MM1","x":1.14,"y":196},{"g":"MM1","x":1,"y":153},
{"g":"MM2","x":2,"y":651},{"g":"MM2","x":1.93,"y":358},{"g":"MM2","x":2.07,"y":328},{"g":"MM2","x":2.21,"y":229},{"g":"MM2","x":1.79,"y":209},{"g":"MM2","x":1.93,"y":177},{"g":"MM2","x":2.07,"y":181},
{"x":0.665,"x2":1.33,"y":235},{"x":1.665,"x2":2.34,"y":228}]},
"encoding":{"x":{"field":"x","type":"quantitative","scale":{"domain":[0.483,2.498],"range":[783.7,970.7]},"axis":{"orient":"bottom","offset":-43,"values":[1,2],"labelExpr":"['','MM1','MM2'][datum.value]","title":null}},"y":{"field":"y","type":"quantitative","scale":{"domain":[0,800],"range":[1928,1804.3]},"axis":{"orient":"left","offset":-783.7,"values":[0,200,400,600,800],"title":"CD10 MFI","titleX":-65.4,"titleY":1861.7}}},
"layer":[
{"transform":[{"filter":"datum.g"}],"mark":"point","encoding":{"shape":{"field":"g"},"fill":{"field":"g"}}},
{"transform":[{"filter":"datum.x2"}],"mark":"rule","encoding":{"x2":{"field":"x2"}}}]},

{"data":{"values":[{"g":"MM1","x":0.93,"y":320},{"g":"MM1","x":1.07,"y":310},{"g":"MM1","x":0.79,"y":247},{"g":"MM1","x":1.21,"y":256},{"g":"MM1","x":0.93,"y":226},{"g":"MM1","x":1.07,"y":230},
{"g":"MM2","x":2,"y":637},{"g":"MM2","x":1.93,"y":346},{"g":"MM2","x":2.07,"y":323},{"g":"MM2","x":1.78,"y":234},{"g":"MM2","x":2.21,"y":239},{"g":"MM2","x":2.07,"y":226},{"g":"MM2","x":1.93,"y":194},
{"x":0.67,"x2":1.325,"y":253},{"x":1.67,"x2":2.33,"y":242}]},
"encoding":{"x":{"field":"x","type":"quantitative","scale":{"domain":[0.472,2.492],"range":[1157.2,1344.7]},"axis":{"orient":"bottom","offset":-43.7,"values":[1,2],"labelExpr":"['','MM1','MM2'][datum.value]","title":null}},"y":{"field":"y","type":"quantitative","scale":{"domain":[0,800],"range":[1927.3,1803.3]},"axis":{"orient":"left","offset":-1157.2,"values":[0,200,400,600,800],"title":"CD117 MFI","titleX":-64.9,"titleY":1860.5}}},
"layer":[
{"transform":[{"filter":"datum.g"}],"mark":"point","encoding":{"shape":{"field":"g"},"fill":{"field":"g"}}},
{"transform":[{"filter":"datum.x2"}],"mark":"rule","encoding":{"x2":{"field":"x2"}}}]}
]}
